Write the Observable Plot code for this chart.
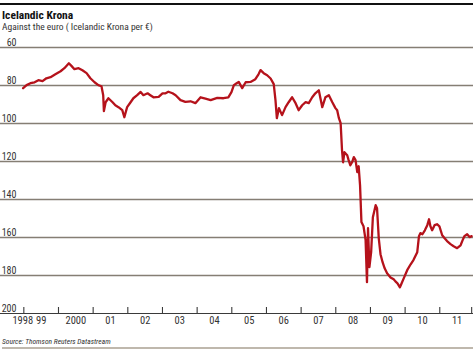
<!DOCTYPE html>
<html>
<head>
<meta charset="utf-8">
<script src="https://cdn.jsdelivr.net/npm/d3@7"></script>
<script src="https://cdn.jsdelivr.net/npm/@observablehq/plot@0.6"></script>
<style>
  html, body { margin: 0; padding: 0; background: #fff; }
  #wrap { position: relative; width: 473px; height: 355px; overflow: hidden;
          font-family: "Liberation Sans Narrow", "Roboto Condensed", "Liberation Sans", Arial, sans-serif; }
  #wrap svg { position: absolute; left: 0; top: 0; }
  .abs { position: absolute; left: 2px; white-space: nowrap; }
  #toprule { position: absolute; left: 0; top: 3px; width: 473px; height: 2px; background: #111; }
  #title { top: 9.5px; font-size: 11.5px; line-height: 11px; font-weight: bold; color: #111; }
  #subtitle { top: 21.5px; font-size: 9.5px; line-height: 9.5px; color: #333; }
  #source { top: 337.5px; font-size: 7.5px; line-height: 7.5px; font-style: italic; color: #333; }
  #botrule { position: absolute; left: 2px; top: 347px; width: 471px; height: 2px; background: #bfb8ad; }
</style>
</head>
<body>
<div id="wrap">
  <div id="toprule"></div>
  <div class="abs" id="title">Icelandic Krona</div>
  <div class="abs" id="subtitle">Against the euro ( Icelandic Krona per €)</div>
  <div class="abs" id="source">Source: Thomson Reuters Datastream</div>
  <div id="botrule"></div>
</div>
<script>
// Decimal year and Icelandic krona per euro
const years = [1998.98,1999.08,1999.19,1999.31,1999.42,1999.54,1999.65,1999.77,1999.91,2000.06,
  2000.17,2000.30,2000.38,2000.46,2000.58,2000.69,2000.81,2000.92,2001.04,2001.15,
  2001.24,2001.29,2001.31,2001.36,2001.44,2001.56,2001.64,2001.73,2001.84,2001.90,
  2001.98,2002.08,2002.16,2002.27,2002.37,2002.45,2002.57,2002.65,2002.74,2002.89,
  2003.00,2003.09,2003.17,2003.29,2003.38,2003.52,2003.66,2003.81,2003.95,2004.10,
  2004.24,2004.39,2004.58,2004.76,2004.90,2004.99,2005.06,2005.14,2005.20,2005.30,
  2005.40,2005.54,2005.68,2005.77,2005.83,2005.92,2006.02,2006.12,2006.21,2006.26,
  2006.30,2006.36,2006.45,2006.55,2006.64,2006.74,2006.84,2006.93,2007.03,2007.13,
  2007.22,2007.32,2007.41,2007.51,2007.61,2007.70,2007.80,2007.90,2007.99,2008.04,
  2008.09,2008.14,2008.18,2008.21,2008.25,2008.33,2008.37,2008.42,2008.47,2008.52,
  2008.57,2008.62,2008.66,2008.70,2008.74,2008.80,2008.86,2008.90,2008.93,2008.97,
  2009.02,2009.07,2009.15,2009.19,2009.24,2009.29,2009.35,2009.41,2009.48,2009.58,
  2009.67,2009.72,2009.78,2009.85,2009.90,2009.96,2010.06,2010.16,2010.24,2010.35,
  2010.40,2010.44,2010.50,2010.57,2010.64,2010.69,2010.73,2010.78,2010.85,2010.92,
  2010.99,2011.07,2011.14,2011.21,2011.31,2011.40,2011.50,2011.60,2011.66,2011.71,
  2011.79,2011.86,2011.92];
const krona = [81.4,79.8,78.8,78.3,77.2,77.7,76.2,75.6,74.1,72.5,
  70.9,68.3,69.8,71.4,70.9,72.0,73.5,76.2,78.3,79.8,
  80.4,85.1,93.5,88.8,86.7,88.8,90.4,91.4,93.0,96.7,
  91.4,88.8,86.7,85.1,83.4,85.1,84.1,85.1,86.2,86.0,
  84.1,84.1,83.3,84.1,85.1,87.7,88.6,88.3,89.3,86.2,
  86.9,87.7,86.5,86.7,86.2,83.5,79.8,78.8,78.1,81.4,
  78.3,78.1,76.7,74.1,71.9,73.5,74.6,76.3,79.3,87.7,
  97.2,91.9,95.6,91.4,88.8,86.2,89.3,93.0,90.4,88.8,
  89.3,86.2,84.1,82.5,91.4,86.2,85.1,88.8,91.9,93.0,
  97.2,99.8,114.1,120.4,115.1,116.7,119.3,122.0,120.4,117.7,
  119.3,125.6,122.5,132.5,151.9,154.1,161.4,183.5,155.1,175.6,
  167.7,149.3,143.0,144.6,160.4,168.8,173.0,176.2,178.8,181.0,
  182.0,183.1,184.1,186.2,184.1,181.5,177.2,174.1,171.9,167.7,
  159.3,157.7,158.3,156.2,153.5,150.4,154.1,156.2,153.5,153.0,
  154.1,158.8,160.4,161.9,163.5,164.6,165.6,164.1,161.4,159.3,
  158.3,159.8,159.3];

const yTicks = [60, 80, 100, 120, 140, 160, 180, 200];
const gridValues = [60, 80, 100, 120, 140, 160, 180];
const tickYears = [1999, 2000, 2001, 2002, 2003, 2004, 2005, 2006, 2007, 2008, 2009, 2010, 2011, 2011.92];
const xLabels = ["1998", "99", "2000", "01", "02", "03", "04", "05", "06", "07", "08", "09", "10", "11"];
const xLabelPos = [1998.97, 1999.5, 2000.5, 2001.5, 2002.5, 2003.5, 2004.5, 2005.5, 2006.5, 2007.5, 2008.5, 2009.5, 2010.5, 2011.5];

const data = years.map((t, i) => ({t, v: krona[i]}));

const chart = Plot.plot({
  width: 473,
  height: 355,
  marginTop: 47,
  marginBottom: 42,
  marginLeft: 0,
  marginRight: 0,
  style: {fontFamily: '"Liberation Sans Narrow", "Roboto Condensed", "Liberation Sans", Arial, sans-serif', fontSize: "10px", color: "#333", background: "transparent", overflow: "visible"},
  x: {type: "linear", domain: [1998.327, 2011.973], axis: null},
  y: {type: "linear", domain: [60, 200], reverse: true, axis: null},
  marks: [
    Plot.ruleY(gridValues, {y: d => d, stroke: "#857e74", strokeWidth: 1.3}),
    Plot.ruleY([200], {y: d => d, stroke: "#3a3a3a", strokeWidth: 1.2}),
    Plot.ruleX(tickYears, {x: d => d, y1: 200, y2: 200, insetTop: -6, stroke: "#3a3a3a", strokeWidth: 1.1}),
    Plot.text(yTicks, {y: d => d, text: d => String(d), frameAnchor: "left", textAnchor: "end", dx: 16, lineAnchor: "bottom", dy: -1.5, fill: "#333", fontSize: 10}),
    Plot.text(xLabels, {x: (d, i) => xLabelPos[i], text: d => d, frameAnchor: "bottom", dy: 10, fill: "#333", fontSize: 10.5}),
    Plot.line(data, {x: "t", y: "v", stroke: "#b5121b", strokeWidth: 2.3, strokeLinejoin: "round"})
  ]
});
document.getElementById("wrap").prepend(chart);
</script>
</body>
</html>
